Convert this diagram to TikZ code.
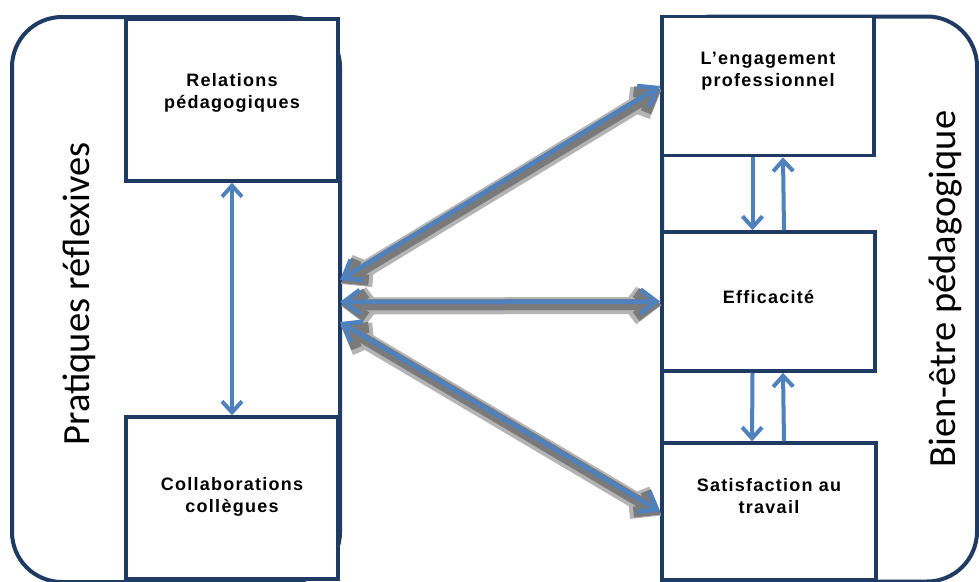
\documentclass[tikz,border=0pt]{standalone}
\usepackage{fontspec}
\setmainfont{Liberation Sans}
\newfontfamily\titlefont{Carlito}
\newfontfamily\boxfont[LetterSpace=7]{Liberation Sans}
\usetikzlibrary{arrows.meta}
\definecolor{navy}{HTML}{1F3B63}
\definecolor{steel}{HTML}{4F81BD}
\definecolor{shade}{HTML}{7A7A7A}
\definecolor{haze}{HTML}{B4B4B4}

\begin{document}
\begin{tikzpicture}[x=1pt, y=-1pt,
    outer/.style={draw=navy, line width=4pt, rounded corners=50pt, minimum height=565pt},
    bloc/.style={draw=navy, line width=3.5pt, fill=white},
    boxtext/.style={align=center, font=\boxfont\bfseries\fontsize{18}{22}\selectfont},
    title/.style={rotate=90, font=\titlefont\fontsize{38.5}{42}\selectfont},
    lien/.style={draw=steel, line width=4pt, {Straight Barb[length=11pt,width=20pt]}-{Straight Barb[length=11pt,width=20pt]}},
    montee/.style={draw=steel, line width=4pt, -{Straight Barb[length=11pt,width=20pt]}},
    halo/.style={draw=haze, line width=17pt, line cap=round, line join=round,
        {Straight Barb[length=16pt,width=24pt]}-{Straight Barb[length=16pt,width=24pt]},
        transform canvas={xshift=1pt, yshift=-4pt}},
    ombre/.style={draw=shade, line width=11pt, line cap=round, line join=round,
        {Straight Barb[length=16pt,width=24pt]}-{Straight Barb[length=16pt,width=24pt]},
        transform canvas={xshift=1pt, yshift=-3pt}},
    fleche/.style={draw=steel, line width=4.5pt,
        {Straight Barb[length=16pt,width=24pt]}-{Straight Barb[length=16pt,width=24pt]}}]

    \useasboundingbox (0,0) rectangle (979,581);

    % Draw the two outer shapes
    \node[outer, minimum width=328pt] (gauche) at (176,299.5) {};
    \node[outer, minimum width=315pt] (droite) at (819.5,299) {};

    % Boxes of the left side
    \node[bloc, minimum width=212pt, minimum height=162pt] (rel) at (232,100) {};
    \node[bloc, minimum width=212pt, minimum height=162pt] (col) at (232,498) {};

    % Boxes of the right side
    \node[bloc, minimum width=212pt, minimum height=139pt] (eng) at (768,86) {};
    \node[bloc, minimum width=213pt, minimum height=139pt] (eff) at (768.5,301.5) {};
    \node[bloc, minimum width=214pt, minimum height=137pt] (sat) at (769,511.5) {};

    % Texts in the boxes
    \node[boxtext] (rel-t) at ([yshift=7pt]rel.center) {Relations\\pédagogiques};
    \node[boxtext] (col-t) at ([yshift=1pt]col.center) {Collaborations\\collègues};
    \node[boxtext] (eng-t) at ([yshift=15pt]eng.center) {L’engagement\\professionnel};
    \node[boxtext] (eff-t) at ([yshift=5pt]eff.center) {Efficacité};
    \node[boxtext] (sat-t) at ([yshift=15pt]sat.center) {Satisfaction au\\travail};

    % Vertical titles
    \node[title] (prat) at (79,294) {Pratiques réflexives};
    \node[title] (bien) at (945,289) {Bien-être pédagogique};

    % Thin arrows between boxes
    \draw[lien] (rel.south) -- (col.north);
    \draw[montee] ([xshift=-15.5pt]eng.south) -- ([xshift=-16pt]eff.north);
    \draw[montee] ([xshift=15.5pt]eff.north) -- ([xshift=15pt]eng.south);
    \draw[montee] ([xshift=-16pt]eff.south) -- ([xshift=-17pt]sat.north);
    \draw[montee] ([xshift=15pt]sat.north) -- ([xshift=14.5pt]eff.south);

    % Start points on the left shape
    \coordinate (g1) at (340,280);
    \coordinate (g2) at (340,302);
    \coordinate (g3) at (340,322);

    % Big arrows with their shadow
    \foreach \a/\b in {g1/eng, g2/eff, g3/sat} {
        \draw[halo] (\a) -- (\b.west);
        \draw[ombre] (\a) -- (\b.west);
    }
    \foreach \a/\b in {g1/eng, g2/eff, g3/sat}
        \draw[fleche] (\a) -- (\b.west);

\end{tikzpicture}
\end{document}
